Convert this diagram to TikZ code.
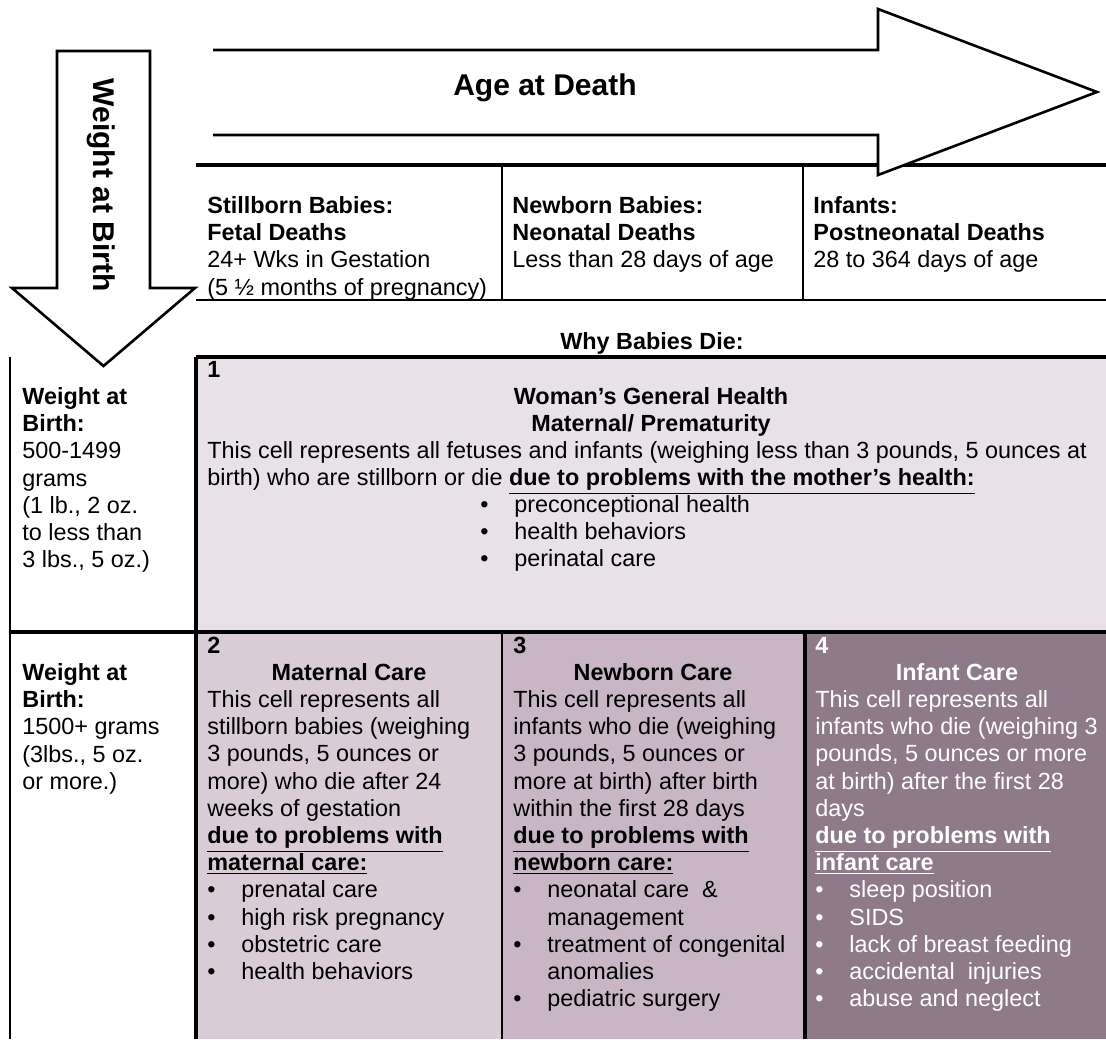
\documentclass[tikz,border=0pt]{standalone}
\usepackage{fontspec}
\setmainfont{Liberation Sans}
\definecolor{cellone}{HTML}{E8E2E8}
\definecolor{celltwo}{HTML}{DACCD6}
\definecolor{cellthree}{HTML}{C8B6C6}
\definecolor{cellfour}{HTML}{8F7A89}
\newcommand{\bul}{\makebox[17pt][l]{\textbullet}}
\newcommand{\bulgap}{\hspace*{17pt}}
\tikzset{txt/.style={anchor=north west,inner sep=0pt,align=left,font=\fontsize{11.7}{13.6}\selectfont}}
\tikzset{ttl/.style={anchor=north,inner sep=0pt,align=center,font=\fontsize{11.7}{13.6}\selectfont\bfseries}}
\tikzset{big/.style={inner sep=0pt,font=\fontsize{15}{18}\selectfont\bfseries}}
\tikzset{arrowline/.style={draw=black,line width=1.3pt,line join=miter}}
\tikzset{thinrule/.style={line width=1pt}}
\tikzset{heavyrule/.style={line width=1.6pt}}

\begin{document}
\begin{tikzpicture}[x=0.5pt,y=-0.5pt]
\useasboundingbox (0,0) rectangle (1106,1039);
% shaded cells
\fill[cellone] (196,357) rectangle (1106,632);
\fill[celltwo] (196,632) rectangle (502,1039);
\fill[cellthree] (502,632) rectangle (805,1039);
\fill[cellfour] (805,632) rectangle (1106,1039);
% rules of the table
\draw[heavyrule] (196,165)--(1106,165);
\draw[thinrule] (196,300)--(1106,300) (502,165)--(502,300) (803,165)--(803,300);
\draw[heavyrule] (196,357)--(1106,357) (196,357)--(196,1039);
\draw[thinrule] (10,357)--(10,1039);
\draw[heavyrule] (10,632)--(1106,632);
\draw[thinrule] (502,632)--(502,1039);
\draw[heavyrule] (805,632)--(805,1039);
% the two big arrows
\fill[white] (213,50)--(878,50)--(878,9)--(1097,92)--(878,175)--(878,135)--(213,135)--cycle;
\draw[arrowline] (213,50)--(878,50)--(878,9)--(1097,92)--(878,175)--(878,135)--(213,135);
\draw[arrowline,fill=white] (57,51)--(150,51)--(150,288)--(195,288)--(103.5,366)--(12,288)--(57,288)--cycle;
\node (agedeath) at (545,95) [big,anchor=base] {Age at Death};
\node (weightbirth) at (101,185) [big,rotate=-90] {Weight at Birth};
% column heads
\node (stillhead) at (207,194) [txt] {\strut\textbf{Stillborn Babies:}\\ \textbf{Fetal Deaths}\\ 24+ Wks in Gestation\\ (5 ½ months of pregnancy)};
\node (newhead) at (512,194) [txt] {\strut\textbf{Newborn Babies:}\\ \textbf{Neonatal Deaths}\\ Less than 28 days of age};
\node (infhead) at (813,194) [txt] {\strut\textbf{Infants:}\\ \textbf{Postneonatal Deaths}\\ 28 to 364 days of age};
\node (whydie) at (652,349) [ttl,anchor=base] {Why Babies Die:};
% row heads
\node (lowweight) at (22,385) [txt] {\strut\textbf{Weight at}\\ \textbf{Birth:}\\ 500-1499\\ grams\\ (1 lb., 2 oz.\\ to less than\\ 3 lbs., 5 oz.)};
\node (highweight) at (22,661) [txt] {\strut\textbf{Weight at}\\ \textbf{Birth:}\\ 1500+ grams\\ (3lbs., 5 oz.\\ or more.)};
% cell 1
\node (numone) at (207,358) [txt] {\strut\textbf{1}};
\node (titleone) at (651,385) [ttl] {\strut Woman's General Health\\ Maternal/ Prematurity};
\node (bodyone) at (207,439) [txt] {\strut This cell represents all fetuses and infants (weighing less than 3 pounds, 5 ounces at\\ birth) who are stillborn or die \underline{\textbf{due to problems with the mother's health:}}};
\node (listone) at (480,493) [txt] {\strut\bul preconceptional health\\ \bul health behaviors\\ \bul perinatal care};
% cell 2
\node (numtwo) at (207,634) [txt] {\strut\textbf{2}};
\node (titletwo) at (349,661) [ttl] {\strut Maternal Care};
\node (bodytwo) at (207,688) [txt] {\strut This cell represents all\\ stillborn babies (weighing\\ 3 pounds, 5 ounces or\\ more) who die after 24\\ weeks of gestation\\ \underline{\textbf{due to problems with}}\\ \underline{\textbf{maternal care:}}\\ \bul prenatal care\\ \bul high risk pregnancy\\ \bul obstetric care\\ \bul health behaviors};
% cell 3
\node (numthree) at (513,634) [txt] {\strut\textbf{3}};
\node (titlethree) at (653,661) [ttl] {\strut Newborn Care};
\node (bodythree) at (513,688) [txt] {\strut This cell represents all\\ infants who die (weighing\\ 3 pounds, 5 ounces or\\ more at birth) after birth\\ within the first 28 days\\ \underline{\textbf{due to problems with}}\\ \underline{\textbf{newborn care:}}\\ \bul neonatal care\ \ \&\\ \bulgap management\\ \bul treatment of congenital\\ \bulgap anomalies\\ \bul pediatric surgery};
% cell 4
\node (numfour) at (815,634) [txt,text=white] {\strut\textbf{4}};
\node (titlefour) at (957,661) [ttl,text=white] {\strut Infant Care};
\node (bodyfour) at (815,688) [txt,text=white] {\strut This cell represents all\\ infants who die (weighing 3\\ pounds, 5 ounces or more\\ at birth) after the first 28\\ days\\ \underline{\textbf{due to problems with}}\\ \underline{\textbf{infant care}}\\ \bul sleep position\\ \bul SIDS\\ \bul lack of breast feeding\\ \bul accidental\ \ injuries\\ \bul abuse and neglect};
\end{tikzpicture}
\end{document}
